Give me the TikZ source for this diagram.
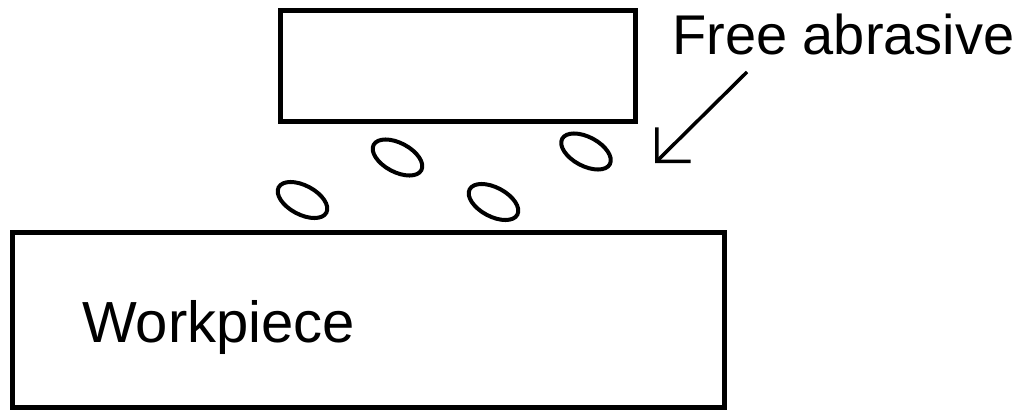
\documentclass[tikz,border=0pt]{standalone}
\usepackage{fontspec}
\setmainfont{Liberation Sans}
\usetikzlibrary{shapes.geometric,arrows.meta}
\tikzset{
  block/.style={draw=black, line width=5pt, inner sep=0pt, fill=none},
  grain/.style={draw=black, ellipse, line width=4pt, inner sep=0pt, minimum width=54pt, minimum height=29pt, rotate=-28},
  label/.style={anchor=base west, inner sep=0pt, font=\fontsize{56}{60}\selectfont},
  pointer/.style={line width=3.5pt, -{Straight Barb[length=24pt,width=48pt,line width=3.5pt]}}
}
\begin{document}
\begin{tikzpicture}[x=1pt,y=-1pt]
\useasboundingbox[fill=white] (0,0) rectangle (1036,412);
\node[block, minimum width=355pt, minimum height=111pt] (tool) at (457.5,66) {};
\node[block, minimum width=712pt, minimum height=175pt] (work) at (368,319.5) {};
\node[label, font=\fontsize{58}{62}\selectfont] (worktext) at (82,342) {Workpiece};
\node[grain] (g1) at (397.5,157.5) {};
\node[grain] (g2) at (586,151.5) {};
\node[grain] (g3) at (302.5,200) {};
\node[grain] (g4) at (493.5,202) {};
\node[label] (abr) at (672,55) {Free abrasive};
\coordinate (atail) at (747,72);
\coordinate (atip) at (655,163);
\draw[pointer] (atail) -- (atip);
\end{tikzpicture}
\end{document}
